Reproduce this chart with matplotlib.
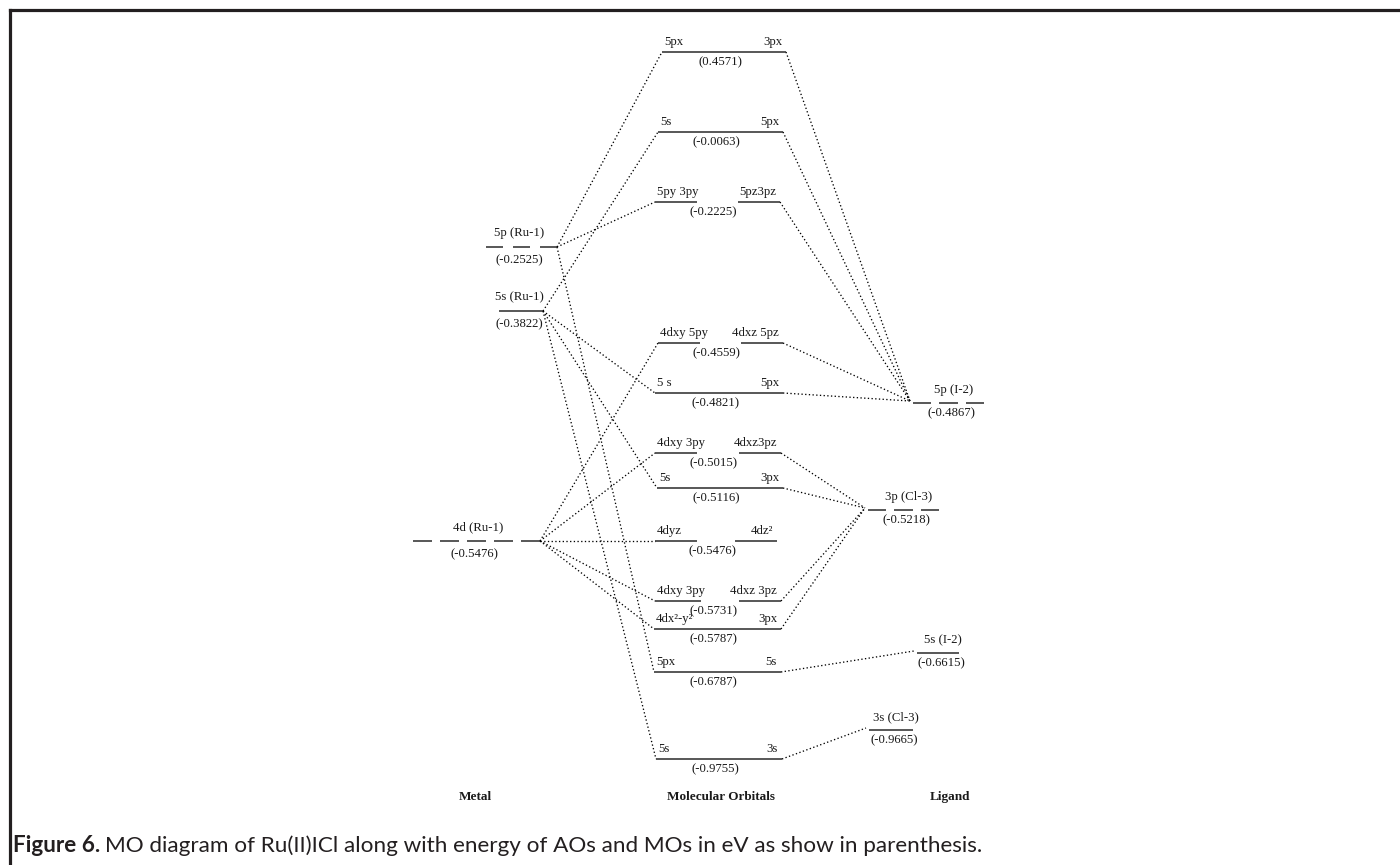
import matplotlib
matplotlib.use("Agg")
import matplotlib.pyplot as plt

# --- dados do diagrama (energias em eV) ---
metal_nomes = ["5p (Ru-1)", "5s (Ru-1)", "4d (Ru-1)"]
metal_energia = ["-0.2525", "-0.3822", "-0.5476"]
metal_degen = [3, 1, 5]

mo_energia = ["0.4571", "-0.0063", "-0.2225", "-0.4559", "-0.4821", "-0.5015",
              "-0.5116", "-0.5476", "-0.5731", "-0.5787", "-0.6787", "-0.9755"]
mo_esq = ["5px", "5s", "5py 3py", "4dxy 5py", "5 s", "4dxy 3py",
          "5s", "4dyz", "4dxy 3py", "4dx²-y²", "5px", "5s"]
mo_dir = ["3px", "5px", "5pz3pz", "4dxz 5pz", "5px", "4dxz3pz",
          "3px", "4dz²", "4dxz 3pz", "3px", "5s", "3s"]
mo_dividido = [False, False, True, True, False, True, False, True, True, False, False, False]

ligante_nomes = ["5p (I-2)", "3p (Cl-3)", "5s (I-2)", "3s (Cl-3)"]
ligante_energia = ["-0.4867", "-0.5218", "-0.6615", "-0.9665"]
ligante_degen = [3, 3, 1, 1]

# ligações: orbital atômico -> índices dos MOs
metal_liga = [[0, 2, 10], [1, 4, 6, 11], [3, 5, 7, 8, 9]]
ligante_liga = [[0, 1, 2, 3, 4], [5, 6, 8, 9], [10], [11]]

# --- layout (coordenadas em pixels do desenho) ---
metal_y = [247, 311, 541]
metal_x0 = [486, 499, 413]
metal_x1 = [557, 543, 540]

mo_y = [52, 132, 202, 343, 393, 453, 488, 541, 601, 629, 672, 759]
mo_x0 = [662, 658, 655, 658, 655, 655, 657, 655, 655, 654, 654, 656]
mo_x1 = [786, 783, 780, 783, 783, 781, 783, 777, 781, 781, 781, 782]

ligante_y = [403, 510, 653, 730]
ligante_x0 = [913, 868, 917, 869]
ligante_x1 = [984, 939, 959, 913]

serif = "Liberation Serif"
cor_txt = "#1a1a1a"
cor_nivel = "#2a2a2a"
pontilhado = (0, (1.0, 1.8))

fig = plt.figure(figsize=(14, 8.65), dpi=100)
ax = fig.add_axes([0, 0, 1, 1])
ax.set_xlim(0, 1400)
ax.set_ylim(865, 0)
ax.axis("off")


def nivel(x0, x1, y, n, gap):
    if n == 1:
        ax.plot([x0, x1], [y, y], color=cor_nivel, lw=1.1, solid_capstyle="butt")
        return
    d = (x1 - x0 - gap * (n - 1)) / n
    for i in range(n):
        a = x0 + i * (d + gap)
        ax.plot([a, a + d], [y, y], color=cor_nivel, lw=1.1, solid_capstyle="butt")


def txt(x, y, s, ha="center"):
    ax.text(x, y, s, ha=ha, va="center", fontsize=9.2, family=serif, color=cor_txt)


# linhas pontilhadas primeiro
for i, lista in enumerate(metal_liga):
    for j in lista:
        ax.plot([metal_x1[i], mo_x0[j]], [metal_y[i], mo_y[j]],
                color="black", lw=0.95, linestyle=pontilhado)
for i, lista in enumerate(ligante_liga):
    for j in lista:
        ax.plot([mo_x1[j], ligante_x0[i] - 3], [mo_y[j], ligante_y[i] - 2],
                color="black", lw=0.95, linestyle=pontilhado)

# níveis do metal
for i in range(len(metal_nomes)):
    gap = 10 if metal_degen[i] == 3 else 8
    nivel(metal_x0[i], metal_x1[i], metal_y[i], metal_degen[i], gap)
    cx = (metal_x0[i] + metal_x1[i]) / 2 - 2
    txt(cx + (4 if metal_degen[i] == 5 else 0), metal_y[i] - 14, metal_nomes[i])
    txt(cx, metal_y[i] + 13, "(" + metal_energia[i] + ")")

# orbitais moleculares
for j in range(len(mo_energia)):
    x0, x1, y = mo_x0[j], mo_x1[j], mo_y[j]
    if mo_dividido[j]:
        seg = 46 if j == 8 else 42
        ax.plot([x0, x0 + seg], [y, y], color=cor_nivel, lw=1.1, solid_capstyle="butt")
        ax.plot([x1 - 42, x1], [y, y], color=cor_nivel, lw=1.1, solid_capstyle="butt")
    else:
        ax.plot([x0, x1], [y, y], color=cor_nivel, lw=1.1, solid_capstyle="butt")
    txt(x0 + 2, y - 10, mo_esq[j], ha="left")
    txt(x1 - 4, y - 10, mo_dir[j], ha="right")
    txt((x0 + x1) / 2 - 4, y + 10, "(" + mo_energia[j] + ")")

# níveis dos ligantes
for i in range(len(ligante_nomes)):
    nivel(ligante_x0[i], ligante_x1[i], ligante_y[i], ligante_degen[i], 8)
    cx = (ligante_x0[i] + ligante_x1[i]) / 2
    txt(cx + 5, ligante_y[i] - 13, ligante_nomes[i])
    txt(cx + 3, ligante_y[i] + 10, "(" + ligante_energia[i] + ")")

# títulos das colunas
for x, s in [(475, "Metal"), (721, "Molecular Orbitals"), (950, "Ligand")]:
    ax.text(x, 797, s, ha="center", va="center", fontsize=9.5, family=serif,
            weight="bold", color=cor_txt)

# moldura (só topo e esquerda)
ax.plot([10, 10], [865, 10], color="#231f20", lw=2.3, solid_capstyle="projecting")
ax.plot([10, 1400], [10, 10], color="#231f20", lw=2.3, solid_capstyle="projecting")

# legenda da figura
t1 = ax.text(13, 846, "Figure 6.", ha="left", va="center", fontsize=16.2,
             family="Lato", weight="bold", color="#231f20")
fig.canvas.draw()
bb = t1.get_window_extent()
x_fim = ax.transData.inverted().transform((bb.x1, bb.y0))[0]
ax.text(x_fim + 5, 846,
        "MO diagram of Ru(II)ICl along with energy of AOs and MOs in eV as show in parenthesis.",
        ha="left", va="center", fontsize=16.2, family="Lato", color="#231f20")

fig.savefig("out.png", dpi=100)
